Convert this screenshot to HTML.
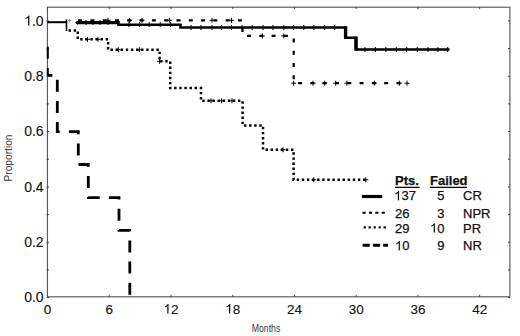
<!DOCTYPE html>
<html><head><meta charset="utf-8"><style>
html,body{margin:0;padding:0;background:#fff;}
body{width:520px;height:336px;overflow:hidden;}
svg{display:block;}
text{font-family:"Liberation Sans",sans-serif;fill:#111;stroke:#111;stroke-width:0.25px;}
.ax text{stroke-width:0.12px;}
.h{fill:none;stroke:none;}
.one{fill:#111;stroke:#111;stroke-width:18px;}
.ax .one{stroke-width:9px;}
</style></head><body>
<svg width="520" height="336" viewBox="0 0 520 336">
<rect width="520" height="336" fill="#fff"/>
<!-- frame -->
<rect x="47.45" y="7.2" width="462.45" height="289.6" fill="none" stroke="#585858" stroke-width="1.15"/>
<path d="M47.50 296.8v-2M47.50 7v2 M109.24 296.8v-2M109.24 7v2 M170.98 296.8v-2M170.98 7v2 M232.72 296.8v-2M232.72 7v2 M294.46 296.8v-2M294.46 7v2 M356.20 296.8v-2M356.20 7v2 M417.94 296.8v-2M417.94 7v2 M479.68 296.8v-2M479.68 7v2 M46.5 297.60h2.5M510 297.60h-2 M46.5 269.93h2.5M510 269.93h-2 M46.5 242.26h2.5M510 242.26h-2 M46.5 214.59h2.5M510 214.59h-2 M46.5 186.92h2.5M510 186.92h-2 M46.5 159.25h2.5M510 159.25h-2 M46.5 131.58h2.5M510 131.58h-2 M46.5 103.91h2.5M510 103.91h-2 M46.5 76.24h2.5M510 76.24h-2 M46.5 48.57h2.5M510 48.57h-2 M46.5 20.90h2.5M510 20.90h-2" stroke="#444" stroke-width="1" fill="none"/>
<!-- y labels -->
<g class="ax"><text x="24.14" y="302.2" font-size="14" >0.0</text><text x="24.14" y="246.86" font-size="14" >0.2</text><text x="24.14" y="191.52" font-size="14" >0.4</text><text x="24.14" y="136.18" font-size="14" >0.6</text><text x="24.14" y="80.84" font-size="14" >0.8</text><text x="24.14" y="25.5" font-size="14" ><tspan class="h">1</tspan>.0</text><path class="one" transform="translate(24.14 25.5) scale(0.00684 -0.00684)" d="M763 0H583V1147Q518 1085 412 1023Q306 961 223 930V1104Q373 1175 486 1274Q599 1373 646 1466H763Z"/></g>
<g class="ax"><text x="43.75" y="313.6" font-size="13.5" >0</text><text x="105.49" y="313.6" font-size="13.5" >6</text><text x="163.47" y="313.6" font-size="13.5" ><tspan class="h">1</tspan>2</text><path class="one" transform="translate(163.47 313.6) scale(0.00659 -0.00659)" d="M763 0H583V1147Q518 1085 412 1023Q306 961 223 930V1104Q373 1175 486 1274Q599 1373 646 1466H763Z"/><text x="225.21" y="313.6" font-size="13.5" ><tspan class="h">1</tspan>8</text><path class="one" transform="translate(225.21 313.6) scale(0.00659 -0.00659)" d="M763 0H583V1147Q518 1085 412 1023Q306 961 223 930V1104Q373 1175 486 1274Q599 1373 646 1466H763Z"/><text x="286.95" y="313.6" font-size="13.5" >24</text><text x="348.69" y="313.6" font-size="13.5" >30</text><text x="410.43" y="313.6" font-size="13.5" >36</text><text x="472.17" y="313.6" font-size="13.5" >42</text></g>
<text x="266" y="332.3" font-size="10" text-anchor="middle" style="fill:#3a3a3a;stroke:none" transform="translate(266 0) scale(0.87 1) translate(-266 0)">Months</text>
<text font-size="10.2" text-anchor="middle" style="fill:#3a3a3a;stroke:none" transform="translate(11.8 158) rotate(-90)">Proportion</text>
<!-- curves -->
<path d="M47.5 22.2H66" stroke="#000" stroke-width="2" fill="none"/>
<path d="M76.5 22.6H118.5" stroke="#000" stroke-width="3.4" fill="none"/>
<path d="M75 22.6L78 20.4V24.8Z" fill="#000"/>
<path d="M118.5 21V24.8H180.5V27.5H345.6V37.7H356V49.5H449.5" stroke="#000" stroke-width="2.6" fill="none"/>
<path d="M345.6 26.5V38.5M356 36.5V50.5" stroke="#000" stroke-width="3.4" fill="none"/>
<path d="M86 20.0v5 M93 20.0v5 M100 20.0v5 M108 20.0v5 M129 22.1v5 M139.4 22.1v5 M149.2 22.1v5 M160.2 22.1v5 M170.6 22.1v5 M191 25.0v5 M201 25.0v5 M212 25.0v5 M221.7 25.0v5 M231.5 25.0v5 M242 25.0v5 M252.2 25.0v5 M263 25.0v5 M273 25.0v5 M283.8 25.0v5 M293.7 25.0v5 M303.8 25.0v5 M313.9 25.0v5 M324.7 25.0v5 M334.8 25.0v5 M365 47.0v5 M375.4 47.0v5 M385.8 47.0v5 M396.3 47.0v5 M406.7 47.0v5 M417.3 47.0v5 M428 47.0v5 M437.9 47.0v5 M447.7 47.0v5" stroke="#000" stroke-width="1" fill="none"/>
<path d="M76 20.3H242.5V35.9H293.7V83.2H407" stroke="#000" stroke-width="2.2" fill="none" stroke-dasharray="4 8.3" stroke-dashoffset="10.20"/>
<path d="M66.5 19.5V31" stroke="#000" stroke-width="1.6" fill="none"/>
<path d="M66.5 30.5H77.8V39.3H108.1V49.8H159.6V61.3H170.2V88.1H201V100.8H242.6V125.4H263V149.8H293.6V179.8H366.7" stroke="#000" stroke-width="2.5" fill="none" stroke-dasharray="2.4 2.7" stroke-dashoffset="3.0"/>
<path d="M69.4 18.6v4M68 20.6h3" stroke="#777" stroke-width="0.8" fill="none"/>
<path d="M108 17.8v5M105.5 20.3h5 M129.5 17.8v5M127.0 20.3h5 M142 17.8v5M139.5 20.3h5 M169.4 17.8v5M166.9 20.3h5 M212 17.8v5M209.5 20.3h5 M231.5 17.8v5M229.0 20.3h5 M262.3 33.4v5M259.8 35.9h5 M283.8 33.4v5M281.3 35.9h5 M293.7 80.7v5M291.2 83.2h5 M313 80.7v5M310.5 83.2h5 M324.7 80.7v5M322.2 83.2h5 M335.7 80.7v5M333.2 83.2h5 M346.9 80.7v5M344.4 83.2h5 M374.4 80.7v5M371.9 83.2h5 M399.4 80.7v5M396.9 83.2h5 M407 80.7v5M404.5 83.2h5 M87.5 36.8v5M85.0 39.3h5 M98 36.8v5M95.5 39.3h5 M118.3 47.3v5M115.8 49.8h5 M139.4 47.3v5M136.9 49.8h5 M159.6 58.8v5M157.1 61.3h5 M211 98.3v5M208.5 100.8h5 M221.5 98.3v5M219.0 100.8h5 M232 98.3v5M229.5 100.8h5 M283 147.3v5M280.5 149.8h5 M313.8 177.3v5M311.3 179.8h5 M365.8 177.3v5M363.3 179.8h5" stroke="#000" stroke-width="1" fill="none"/>
<path d="M47.8 40V75.4" stroke="#000" stroke-width="2" fill="none" stroke-dasharray="12 9.2" stroke-dashoffset="14.4"/>
<path d="M47.8 75.4H57.3V131.7H78.3V164.5H88.3V197.7H119V230.3H129.8V296.5" stroke="#000" stroke-width="2.8" fill="none" stroke-dasharray="12 9.2" stroke-dashoffset="7.4"/>
<!-- legend -->
<path d="M361.9 196.5H382.2" stroke="#000" stroke-width="3.2"/>
<path d="M362.5 212.75H385" stroke="#000" stroke-width="2.2" stroke-dasharray="3.1 3.3"/>
<path d="M363.6 227.4H386" stroke="#000" stroke-width="2.4" stroke-dasharray="2.2 2.8"/>
<path d="M362.6 245.2H388.1" stroke="#000" stroke-width="2.9" stroke-dasharray="7.2 3.1"/>
<g font-size="13">
<text x="395" y="184.8" font-weight="bold">Pts.</text>
<text x="430" y="184.8" font-weight="bold">Failed</text>
<path d="M395 187.3H419.6M430 187.3H467" stroke="#000" stroke-width="1.2"/>
<text x="394.20" y="200.3" font-size="13" ><tspan class="h">1</tspan>37</text><path class="one" transform="translate(394.20 200.3) scale(0.00635 -0.00635)" d="M763 0H583V1147Q518 1085 412 1023Q306 961 223 930V1104Q373 1175 486 1274Q599 1373 646 1466H763Z"/><text x="437.27" y="200.3" font-size="13" >5</text><text x="463" y="200.3">CR</text>
<text x="395.00" y="217.8" font-size="13" >26</text><text x="437.27" y="217.8" font-size="13" >3</text><text x="463" y="217.8">NPR</text>
<text x="395.00" y="232.6" font-size="13" >29</text><text x="430.04" y="232.6" font-size="13" ><tspan class="h">1</tspan>0</text><path class="one" transform="translate(430.04 232.6) scale(0.00635 -0.00635)" d="M763 0H583V1147Q518 1085 412 1023Q306 961 223 930V1104Q373 1175 486 1274Q599 1373 646 1466H763Z"/><text x="463" y="232.6">PR</text>
<text x="395.00" y="250.3" font-size="13" ><tspan class="h">1</tspan>0</text><path class="one" transform="translate(395.00 250.3) scale(0.00635 -0.00635)" d="M763 0H583V1147Q518 1085 412 1023Q306 961 223 930V1104Q373 1175 486 1274Q599 1373 646 1466H763Z"/><text x="437.27" y="250.3" font-size="13" >9</text><text x="463" y="250.3">NR</text>
</g>
</svg>
</body></html>
